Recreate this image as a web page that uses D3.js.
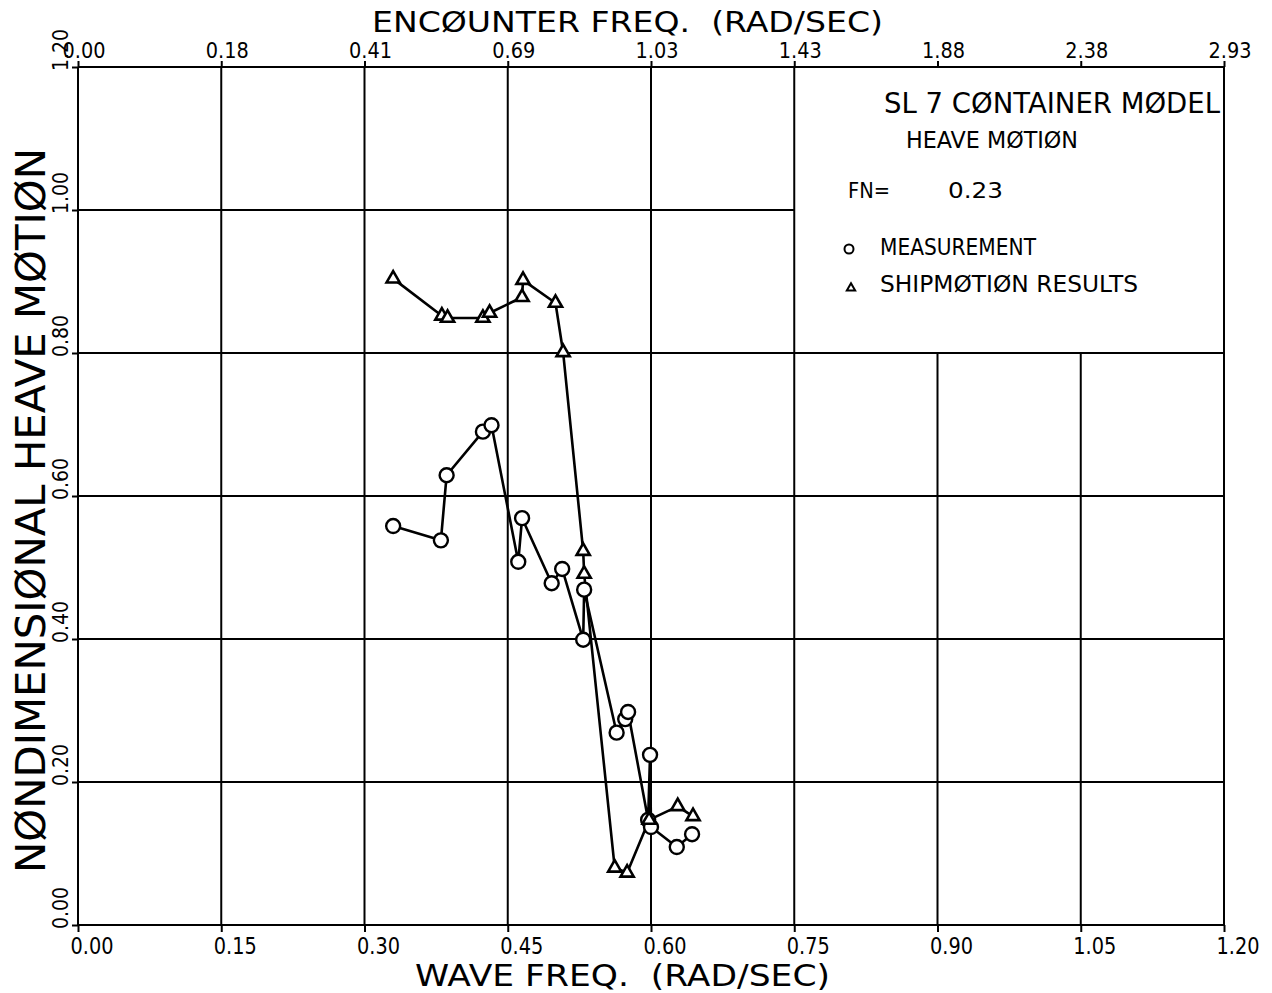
<!DOCTYPE html>
<html>
<head>
<meta charset="utf-8">
<script src="https://cdn.jsdelivr.net/npm/d3@7"></script>
<style>
  html, body { margin: 0; padding: 0; background: #fff; }
  svg { display: block; }
  text { font-family: "DejaVu Sans", sans-serif; fill: #000; white-space: pre; }
</style>
</head>
<body>
<svg id="chart" width="1272" height="993"></svg>
<script>
// ---- data ----
const waveTicks = [0.00, 0.15, 0.30, 0.45, 0.60, 0.75, 0.90, 1.05, 1.20];
const encounterTickLabels = ["0.00", "0.18", "0.41", "0.69", "1.03", "1.43", "1.88", "2.38", "2.93"];
const heaveTicks = [0.00, 0.20, 0.40, 0.60, 0.80, 1.00, 1.20];

const measFreq  = [0.330, 0.380, 0.386, 0.424, 0.433, 0.461, 0.465, 0.496, 0.507, 0.529, 0.530, 0.564, 0.573, 0.576, 0.597, 0.599, 0.600, 0.627, 0.643];
const measHeave = [0.558, 0.538, 0.629, 0.690, 0.699, 0.508, 0.569, 0.478, 0.498, 0.399, 0.469, 0.269, 0.288, 0.298, 0.147, 0.238, 0.137, 0.109, 0.127];

const shipFreq  = [0.330, 0.381, 0.387, 0.424, 0.431, 0.465, 0.466, 0.500, 0.508, 0.529, 0.530, 0.562, 0.575, 0.598, 0.628, 0.644];
const shipHeave = [0.904, 0.852, 0.849, 0.849, 0.856, 0.878, 0.902, 0.870, 0.801, 0.523, 0.491, 0.080, 0.073, 0.147, 0.166, 0.152];

// legend box region (no grid inside)
const legendFreqMin = 0.75;
const legendHeaveMin = 0.80;

// ---- drawing ----
const svg = d3.select("#chart");
const x = d3.scaleLinear().domain([0, 1.2]).range([78, 1224]);
const y = d3.scaleLinear().domain([0, 1.2]).range([925, 67]);

const ink = "#000";

function txt(g, s, px, py, size, len, extra) {
  const t = g.append("text")
    .attr("x", px).attr("y", py)
    .attr("font-size", size)
    .attr("xml:space", "preserve")
    .text(s);
  if (len) t.attr("textLength", len).attr("lengthAdjust", "spacingAndGlyphs");
  if (extra) extra(t);
  return t;
}

// grid
const grid = svg.append("g").attr("stroke", ink).attr("stroke-width", 2);
grid.selectAll("line.v").data(waveTicks).join("line")
  .attr("class", "v")
  .attr("x1", d => x(d)).attr("x2", d => x(d))
  .attr("y1", d => (d > legendFreqMin + 1e-9 && d < 1.2 - 1e-9) ? y(legendHeaveMin) : y(1.2))
  .attr("y2", y(0));
grid.selectAll("line.h").data(heaveTicks).join("line")
  .attr("class", "h")
  .attr("x1", x(0))
  .attr("x2", d => (d > legendHeaveMin + 1e-9 && d < 1.2 - 1e-9) ? x(legendFreqMin) : x(1.2))
  .attr("y1", d => y(d)).attr("y2", d => y(d));

// axes (tick marks only; labels styled manually)
const bottomAxis = d3.axisBottom(x).tickValues(waveTicks).tickSize(7).tickFormat("");
const topAxis = d3.axisTop(x).tickValues(waveTicks).tickSize(6).tickFormat("");
const leftAxis = d3.axisLeft(y).tickValues(heaveTicks).tickSize(6).tickFormat("");
[ [bottomAxis, `translate(0,${y(0)})`], [topAxis, `translate(0,${y(1.2)})`], [leftAxis, `translate(${x(0)},0)`] ]
  .forEach(([ax, tr]) => {
    const g = svg.append("g").attr("transform", tr).call(ax);
    g.select(".domain").remove();
    g.selectAll(".tick line").attr("stroke", ink).attr("stroke-width", 2);
  });

// tick labels
const lab = svg.append("g");
waveTicks.forEach(v => {
  txt(lab, d3.format(".2f")(v), x(v) + 14, 954, 23, 43, t => t.attr("text-anchor", "middle"));
});
waveTicks.forEach((v, i) => {
  txt(lab, encounterTickLabels[i], x(v) + 6, 58, 22, 43, t => t.attr("text-anchor", "middle"));
});
heaveTicks.forEach(v => {
  txt(lab, d3.format(".2f")(v), 0, 0, 22, 42, t => t
    .attr("transform", `translate(68,${y(v) + 4}) rotate(-90)`)
    .attr("text-anchor", "start"));
});

// axis titles
txt(svg, "ENCØUNTER FREQ.  (RAD/SEC)", 372, 32, 29, 511);
txt(svg, "WAVE FREQ.  (RAD/SEC)", 415, 986, 30, 415);
txt(svg, "NØNDIMENSIØNAL HEAVE MØTIØN", 0, 0, 40, 725, t => t
  .attr("transform", "translate(45,873) rotate(-90)"));

// series lines
const line = d3.line().x(d => x(d[0])).y(d => y(d[1]));
const meas = measFreq.map((f, i) => [f, measHeave[i]]);
const ship = shipFreq.map((f, i) => [f, shipHeave[i]]);

svg.append("path").datum(meas).attr("d", line)
  .attr("fill", "none").attr("stroke", ink).attr("stroke-width", 2.6).attr("stroke-linejoin", "round");
svg.append("path").datum(ship).attr("d", line)
  .attr("fill", "none").attr("stroke", ink).attr("stroke-width", 2.6).attr("stroke-linejoin", "round");

// markers
svg.append("g").selectAll("circle").data(meas).join("circle")
  .attr("cx", d => x(d[0])).attr("cy", d => y(d[1])).attr("r", 7)
  .attr("fill", "#fff").attr("stroke", ink).attr("stroke-width", 2.4);
const tri = d3.symbol().type(d3.symbolTriangle).size(75);
svg.append("g").selectAll("path").data(ship).join("path")
  .attr("d", tri)
  .attr("transform", d => `translate(${x(d[0])},${y(d[1])})`)
  .attr("fill", "#fff").attr("stroke", ink).attr("stroke-width", 2.6);

// legend / annotation
const leg = svg.append("g");
txt(leg, "SL 7 CØNTAINER MØDEL", 884, 113, 28, 336);
txt(leg, "HEAVE MØTIØN", 906, 148, 23, 172);
txt(leg, "FN=", 848, 198, 22, 42);
txt(leg, "0.23", 948, 198, 22, 55);
txt(leg, "MEASUREMENT", 880, 255, 23, 156);
txt(leg, "SHIPMØTIØN RESULTS", 880, 292, 23, 258);
leg.append("circle").attr("cx", 849).attr("cy", 249).attr("r", 4.5)
  .attr("fill", "#fff").attr("stroke", ink).attr("stroke-width", 2);
leg.append("path").attr("d", d3.symbol().type(d3.symbolTriangle).size(30))
  .attr("transform", "translate(851,288)")
  .attr("fill", "#fff").attr("stroke", ink).attr("stroke-width", 2);
</script>
</body>
</html>
